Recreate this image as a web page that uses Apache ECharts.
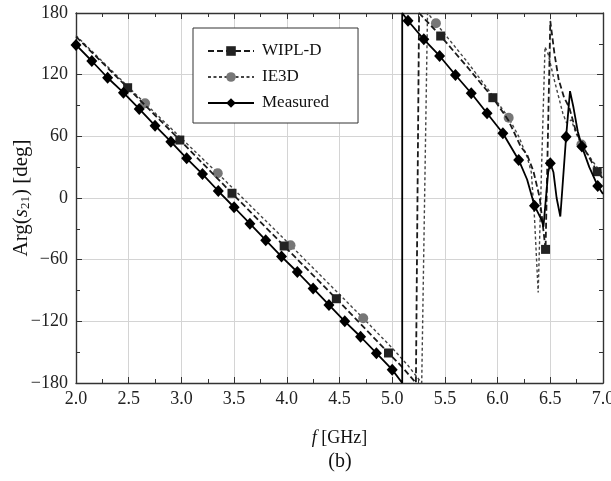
<!DOCTYPE html>
<html>
<head>
<meta charset="utf-8">
<script src="https://cdn.jsdelivr.net/npm/echarts@6/dist/echarts.min.js"></script>
<style>
html, body { margin: 0; padding: 0; background: #fff; }
#phase { width: 611px; height: 481px; }
</style>
</head>
<body>
<div id="phase"></div>
<script>
// frequency [GHz] / phase [deg]
var wiplF     = [2.00, 2.49, 2.985, 3.48, 3.975, 4.47, 4.965, 5.10, 5.225, 5.255, 5.46, 5.70, 5.955, 6.10, 6.22, 6.28, 6.34, 6.40, 6.455, 6.50, 6.54, 6.58, 6.63, 6.68, 6.74, 6.80, 6.945, 7.00];
var wiplPhase = [157, 107.3, 56.4, 4.6, -46.7, -98, -150.8, -165, -180, 180, 157.6, 129, 97.6, 76, 50, 42, 26, 0, -50, 172, 140, 115, 98, 88, 66, 52, 25.6, 19];
var wiplMarks = [2.49, 2.985, 3.48, 3.975, 4.47, 4.965, 5.46, 5.955, 6.455, 6.945];

var ie3dF     = [2.00, 2.655, 3.345, 4.035, 4.725, 5.00, 5.15, 5.28, 5.335, 5.415, 5.70, 5.90, 6.105, 6.20, 6.28, 6.32, 6.35, 6.385, 6.42, 6.45, 6.48, 6.53, 6.58, 6.62, 6.655, 6.70, 6.74, 6.795, 6.90, 7.00];
var ie3dPhase = [158, 92.1, 24, -46, -117, -146, -163, -180, 180, 170, 134, 107, 78, 60, 40, 25, -19, -92, 40, 147, 140, 118, 98, 82, 73, 76, 64, 52, 36, 22];
var ie3dMarks = [2.655, 3.345, 4.035, 4.725, 5.415, 6.105, 6.795];

var measF     = [2.00, 2.15, 2.30, 2.45, 2.60, 2.75, 2.90, 3.05, 3.20, 3.35, 3.50, 3.65, 3.80, 3.95, 4.10, 4.25, 4.40, 4.55, 4.70, 4.85, 5.00, 5.095, 5.095, 5.15, 5.30, 5.45, 5.60, 5.75, 5.90, 6.05, 6.20, 6.28, 6.35, 6.42, 6.435, 6.45, 6.48, 6.50, 6.53, 6.56, 6.595, 6.615, 6.65, 6.687, 6.72, 6.76, 6.80, 6.87, 6.95, 7.00];
var measPhase = [148.9, 133.3, 117, 102.5, 86.6, 70.4, 54.8, 38.6, 23.3, 6.8, -9, -25, -41, -57, -72, -88, -104, -120, -135, -151, -167, -180, 180, 172.5, 154.4, 138.2, 119.7, 101.9, 82.4, 63, 37, 18, -7.5, -22, -28, -10, 25, 33.8, 25, 0, -18, 10, 59.6, 104, 88, 65, 50, 30, 11.7, 4];
var measMarks = [2.00, 2.15, 2.30, 2.45, 2.60, 2.75, 2.90, 3.05, 3.20, 3.35, 3.50, 3.65, 3.80, 3.95, 4.10, 4.25, 4.40, 4.55, 4.70, 4.85, 5.00, 5.15, 5.30, 5.45, 5.60, 5.75, 5.90, 6.05, 6.20, 6.35, 6.50, 6.65, 6.80, 6.95];

var xTicks = [2.0, 2.5, 3.0, 3.5, 4.0, 4.5, 5.0, 5.5, 6.0, 6.5, 7.0];
var yTicks = [-180, -120, -60, 0, 60, 120, 180];

var serif = '"Liberation Serif", "DejaVu Serif", serif';

// points on the marker list keep their symbol, the rest are plain line points
function buildData(fs, ps, marks) {
	var out = [];
	for (var i = 0; i < fs.length; i++) {
		if (marks.indexOf(fs[i]) >= 0) {
			out.push([fs[i], ps[i]]);
		} else {
			out.push({ value: [fs[i], ps[i]], symbol: 'none' });
		}
	}
	return out;
}

function drawPhase() {
	var myChart = echarts.init(document.getElementById('phase'));
	var frame = { show: true, onZero: false, lineStyle: { color: '#333', width: 1.4 } };
	var option = {
		animation: false,
		backgroundColor: '#fff',
		grid: { left: 76, right: 8, top: 13, bottom: 98, containLabel: false, outerBoundsMode: 'none' },
		legend: {
			orient: 'vertical',
			left: 193,
			top: 28,
			padding: [13, 29, 10, 14],
			itemGap: 6,
			itemWidth: 46,
			itemHeight: 12,
			borderColor: '#333',
			borderWidth: 1,
			backgroundColor: '#fff',
			textStyle: { fontFamily: serif, fontSize: 17, color: '#111', lineHeight: 20, padding: [0, 0, 0, 3] },
			data: ['WIPL-D', 'IE3D', 'Measured']
		},
		xAxis: [
			{
				type: 'value',
				min: xTicks[0],
				max: xTicks[xTicks.length - 1],
				interval: xTicks[1] - xTicks[0],
				position: 'bottom',
				axisLine: frame,
				axisTick: { inside: true, length: 6, lineStyle: { color: '#333' } },
				minorTick: { show: true, splitNumber: 2, length: 4, lineStyle: { color: '#333' } },
				splitLine: { show: true, lineStyle: { color: '#d4d4d4', width: 1 } },
				axisLabel: {
					fontFamily: serif, fontSize: 18, color: '#222', margin: 7,
					formatter: function (v) { return v.toFixed(1); }
				},
				name: '{i|f} [GHz]',
				nameLocation: 'middle',
				nameGap: 46,
				nameTextStyle: {
					fontFamily: serif, fontSize: 18, color: '#111',
					rich: { i: { fontFamily: serif, fontSize: 18, fontStyle: 'italic', color: '#111' } }
				}
			},
			{
				type: 'value',
				min: xTicks[0],
				max: xTicks[xTicks.length - 1],
				interval: xTicks[1] - xTicks[0],
				position: 'top',
				axisLine: frame,
				axisTick: { inside: true, length: 6, lineStyle: { color: '#333' } },
				minorTick: { show: true, splitNumber: 2, length: 4, lineStyle: { color: '#333' } },
				splitLine: { show: false },
				axisLabel: { show: false }
			}
		],
		yAxis: [
			{
				type: 'value',
				min: yTicks[0],
				max: yTicks[yTicks.length - 1],
				interval: yTicks[1] - yTicks[0],
				position: 'left',
				axisLine: frame,
				axisTick: { inside: true, length: 6, lineStyle: { color: '#333' } },
				minorTick: { show: true, splitNumber: 2, length: 4, lineStyle: { color: '#333' } },
				splitLine: { show: true, lineStyle: { color: '#d4d4d4', width: 1 } },
				axisLabel: {
					fontFamily: serif, fontSize: 18, color: '#222', margin: 8,
					formatter: function (v) { return String(v).replace('-', '\u2212'); }
				},
				name: 'Arg({i|s}{sub|21}) [deg]',
				nameLocation: 'middle',
				nameRotate: 90,
				nameGap: 44,
				nameMoveOverlap: false,
				nameTextStyle: {
					fontFamily: serif, fontSize: 21, color: '#111',
					rich: {
						i: { fontFamily: serif, fontSize: 21, fontStyle: 'italic', color: '#111' },
						sub: { fontFamily: serif, fontSize: 13, color: '#111', padding: [9, 0, 0, 0] }
					}
				}
			},
			{
				type: 'value',
				min: yTicks[0],
				max: yTicks[yTicks.length - 1],
				interval: yTicks[1] - yTicks[0],
				position: 'right',
				axisLine: frame,
				axisTick: { inside: true, length: 6, lineStyle: { color: '#333' } },
				minorTick: { show: true, splitNumber: 2, length: 4, lineStyle: { color: '#333' } },
				splitLine: { show: false },
				axisLabel: { show: false }
			}
		],
		graphic: [
			{
				type: 'text',
				x: 340,
				y: 462,
				style: { text: '(b)', font: '20px ' + serif, fill: '#111', align: 'center', verticalAlign: 'middle' }
			}
		],
		series: [
			{
				name: 'WIPL-D',
				type: 'line',
				data: buildData(wiplF, wiplPhase, wiplMarks),
				symbol: 'rect',
				symbolSize: 9,
				showAllSymbol: true,
				lineStyle: { color: '#1a1a1a', width: 1.8, type: [6, 3] },
				itemStyle: { color: '#222' },
				z: 3
			},
			{
				name: 'IE3D',
				type: 'line',
				data: buildData(ie3dF, ie3dPhase, ie3dMarks),
				symbol: 'circle',
				symbolSize: 10,
				showAllSymbol: true,
				lineStyle: { color: '#444', width: 1.4, type: [3, 2.5] },
				itemStyle: { color: '#777' },
				z: 2
			},
			{
				name: 'Measured',
				type: 'line',
				data: buildData(measF, measPhase, measMarks),
				symbol: 'diamond',
				symbolSize: [11, 12],
				showAllSymbol: true,
				lineStyle: { color: '#000', width: 1.8 },
				itemStyle: { color: '#000' },
				z: 4
			}
		]
	};
	myChart.setOption(option);
}

drawPhase();
</script>
</body>
</html>
